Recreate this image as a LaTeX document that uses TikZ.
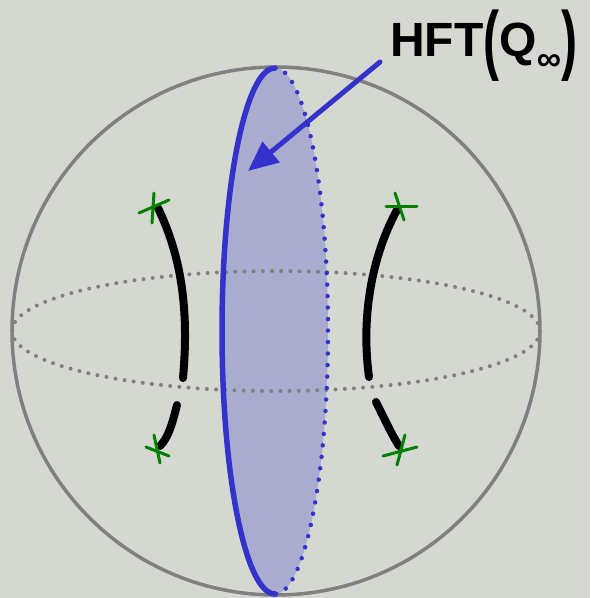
\documentclass[tikz,border=0pt]{standalone}
\usepackage{fontspec}
\usepackage{graphicx}
\setmainfont{Liberation Sans}
\usetikzlibrary{arrows.meta}
\definecolor{bgc}{HTML}{D5D8D1}
\definecolor{spherec}{HTML}{808080}
\definecolor{bluec}{HTML}{3333CC}
\definecolor{bluefillc}{HTML}{A9ACCF}
\definecolor{greenc}{HTML}{008000}
\tikzset{
  spherestyle/.style={draw=spherec,line width=3.5pt},
  equatorstyle/.style={draw=spherec,line width=4pt,line cap=round,dash pattern=on 0pt off 9.2pt},
  bluesolid/.style={draw=bluec,line width=5.5pt,line cap=round},
  bluedots/.style={draw=bluec,line width=4.5pt,line cap=round,dash pattern=on 0pt off 11.5pt},
  curvestyle/.style={draw=black,line width=8pt,line cap=round},
  crossstyle/.style={draw=greenc,line width=3pt,line cap=round},
  arrowstyle/.style={draw=bluec,line width=5pt,line cap=round,-{Triangle[length=30pt,width=26pt]}},
}
\begin{document}
\begin{tikzpicture}[x=1pt,y=-1pt]
\fill[bgc] (0,0) rectangle (590,598);
\useasboundingbox (0,0) rectangle (590,598);
% blue disc fill
\fill[bluefillc] (275,331) ellipse [x radius=53, y radius=263];
% sphere
\draw[spherestyle] (276,331) circle [radius=264];
% equator
\draw[equatorstyle] (276,331) ellipse [x radius=264, y radius=60];
% blue disc outline
\draw[bluesolid] (275,68) arc[start angle=270, end angle=90, x radius=53, y radius=263];
\draw[bluedots] (275,68) arc[start angle=270, end angle=450, x radius=53, y radius=263];
% black curves
\draw[curvestyle] (158,208) .. controls (178,250) and (190,300) .. (183,378);
\draw[curvestyle] (177,405) .. controls (172,425) and (168,438) .. (160,446);
\draw[curvestyle] (397,210) .. controls (375,250) and (360,310) .. (369,377);
\draw[curvestyle] (376,402) .. controls (385,420) and (392,435) .. (399,446);
% green crosses
\draw[crossstyle] (139,213) -- (169,200);
\draw[crossstyle] (154,193) -- (152,223);
\draw[crossstyle] (146,447) -- (169,456);
\draw[crossstyle] (154,435) -- (160,463);
\draw[crossstyle] (386,206) -- (417,206);
\draw[crossstyle] (395,193) -- (404,220);
\draw[crossstyle] (383,456) -- (417,447);
\draw[crossstyle] (405,435) -- (397,465);
% label and arrow
\node[inner sep=0pt, anchor=west, font=\bfseries\fontsize{48}{48}\selectfont] (lbl) at (390,46) {HFT\raisebox{-0.2em}{\scalebox{1}[1.6]{(}}Q\raisebox{-0.55ex}{\fontsize{34}{34}\selectfont ∞}\raisebox{-0.2em}{\scalebox{1}[1.6]{)}}};
\coordinate (tail) at (380,62);
\coordinate (tip) at (248,171);
\draw[arrowstyle] (tail) -- (tip);
\end{tikzpicture}
\end{document}
